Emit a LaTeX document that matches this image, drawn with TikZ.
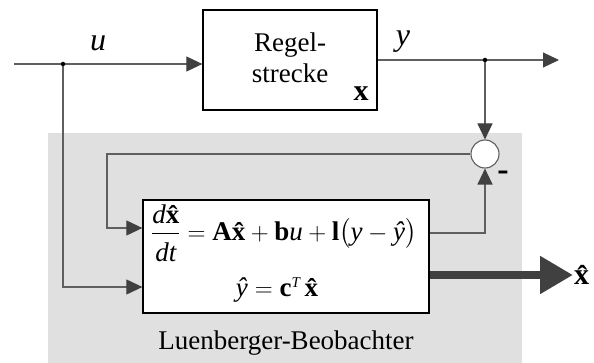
\documentclass[tikz,border=0pt]{standalone}
\usepackage{amsmath}
\usepackage[no-math]{fontspec}
\setmainfont{Liberation Serif}
\usetikzlibrary{arrows.meta,calc}
\definecolor{bggray}{HTML}{E0E0E0}
\definecolor{linegray}{HTML}{5F5F5F}
\definecolor{headgray}{HTML}{404040}
\newcommand{\tvb}[1]{\mbox{\bfseries #1}}
\newcommand{\tvi}[1]{\mbox{\itshape #1}}
\newcommand{\xhat}{\mbox{\bfseries\^{x}}}
\newcommand{\yhat}{\mbox{\itshape\^{y}}}
\begin{document}
\begin{tikzpicture}[x=1pt,y=-1pt,
  bigfont/.style={font=\fontsize{27}{31}\selectfont},
  lblfont/.style={font=\fontsize{32}{36}\selectfont},
  blockbox/.style={draw=black,line width=1.3pt,fill=white,inner sep=0pt},
  sig/.style={draw=linegray,line width=1.1pt},
  sigarrow/.style={sig,-{Triangle[length=16pt,width=15pt,fill=headgray,color=headgray]}},
  bigarrow/.style={draw=headgray,line width=8pt,-{Triangle[length=33pt,width=36pt,fill=headgray,color=headgray]}},
  branchdot/.style={circle,fill=black,inner sep=0pt,minimum size=4.5pt},
  sumcircle/.style={circle,draw=linegray,line width=1.1pt,fill=white,minimum size=28pt,inner sep=0pt}]
\useasboundingbox (0,0) rectangle (594,363);
% observer background
\fill[bggray] (48,133) rectangle (522,363);
% blocks
\node[blockbox,minimum width=174pt,minimum height=100pt] (plant) at (290,60) {};
\node[bigfont,align=center] (plantlbl) at (290,58) {Regel-\\strecke};
\node[font=\fontsize{30}{34}\selectfont] (plantx) at (361,94) {\tvb{x}};
\node[blockbox,minimum width=286pt,minimum height=113pt] (obs) at (286,256.5) {};
\node[bigfont,anchor=west,inner sep=0pt] (eq1) at (151,233) {$\dfrac{\tvi{d}\xhat\rule[-3pt]{0pt}{3pt}}{\rule{0pt}{24pt}\tvi{dt}} = \tvb{A}\xhat + \tvb{b}\tvi{u} + \tvb{l}\bigl(\tvi{y}-\yhat\bigr)$};
\node[bigfont] (eq2) at (277,290) {$\yhat = \tvb{c}^{\mbox{\fontsize{15}{15}\selectfont\itshape T}}\,\xhat$};
\node[bigfont] (obslbl) at (286,343) {Luenberger-Beobachter};
% sum
\node[sumcircle] (sum) at (485,154) {};
\node[font=\bfseries\fontsize{34}{34}\selectfont,inner sep=0pt] (minus) at (503,176) {-};
% coordinates
\coordinate (uin) at (14,64);
\coordinate (ud) at (63,64);
\coordinate (ub) at (63,287);
\coordinate (yd) at (485,60);
\coordinate (yout) at (559,60);
\coordinate (fb1) at (107,154);
\coordinate (fb2) at (107,228);
\coordinate (ob1) at (485,233);
\coordinate (xh) at (573,275);
% connectors
\draw[sigarrow] (uin) -- (ud -| plant.west);
\draw[sigarrow] (ud) -- (ub) -- (ub -| obs.west);
\draw[sigarrow] (plant.east) -- (yout);
\draw[sigarrow] (yd) -- (sum.north);
\draw[sigarrow] (sum.west) -- (fb1) -- (fb2) -- (fb2 -| obs.west);
\draw[sigarrow] (obs.east |- ob1) -- (ob1) -- (sum.south);
\draw[bigarrow] (obs.east |- xh) -- (xh);
\node[branchdot] (dotu) at (ud) {};
\node[branchdot] (doty) at (yd) {};
% labels
\node[lblfont] (ulbl) at (98,43) {\tvi{u}};
\node[lblfont] (ylbl) at (403,42) {\tvi{y}};
\node[font=\fontsize{30}{34}\selectfont,anchor=west,inner sep=1pt] (xhlbl) at (xh) {\xhat};
\end{tikzpicture}
\end{document}
